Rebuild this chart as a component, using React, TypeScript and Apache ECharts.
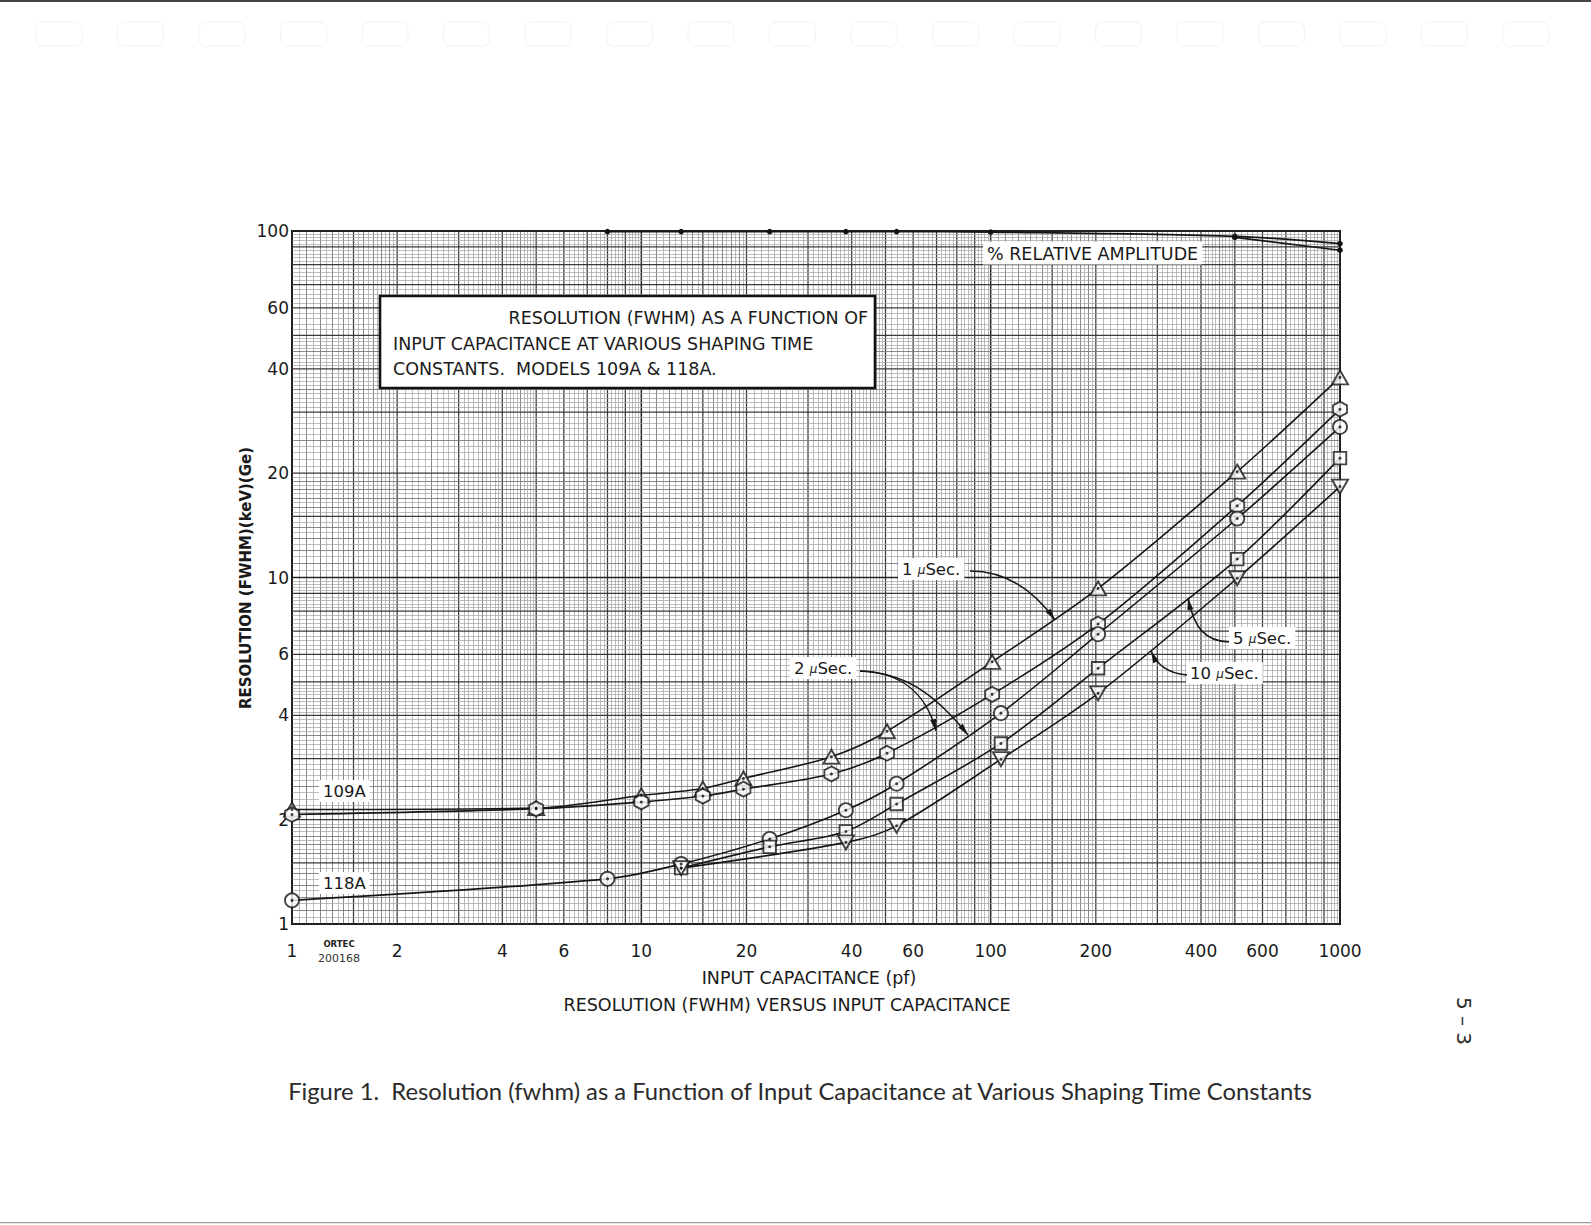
import React, { useEffect, useRef } from "react";
import * as echarts from "echarts";

// ---------- data ----------
const xTickLabels = [1, 2, 4, 6, 10, 20, 40, 60, 100, 200, 400, 600, 1000];
const yTickLabels = [1, 2, 4, 6, 10, 20, 40, 60, 100];

// 109A, 1 µSec (triangles)
const cap1us = [1, 5, 10, 15, 19.6, 35, 50.5, 101, 203, 508, 1000];
const res1us = [2.14, 2.16, 2.35, 2.46, 2.63, 3.04, 3.6, 5.71, 9.3, 20.2, 37.8];
// 109A, 2 µSec (hexagons)
const cap2us109 = [1, 5, 10, 15, 19.6, 35, 50.5, 101, 203, 508, 1000];
const res2us109 = [2.07, 2.15, 2.25, 2.34, 2.45, 2.71, 3.11, 4.6, 7.34, 16.1, 30.6];
// 118A, 2 µSec (circles)
const cap2us118 = [1, 8, 13, 23.3, 38.5, 53.8, 107, 203, 508, 1000];
const res2us118 = [1.17, 1.35, 1.49, 1.76, 2.13, 2.54, 4.06, 6.86, 14.8, 27.2];
// 118A, 5 µSec (squares)
const cap5us = [13, 23.3, 38.5, 53.8, 107, 203, 508, 1000];
const res5us = [1.45, 1.67, 1.85, 2.22, 3.32, 5.47, 11.3, 22.1];
// 118A, 10 µSec (inverted triangles)
const cap10us = [13, 38.5, 53.8, 107, 203, 508, 1000];
const res10us = [1.45, 1.72, 1.92, 2.99, 4.63, 9.95, 18.3];
// % relative amplitude
const ampCap = [8, 13, 23.3, 38.5, 53.8, 100, 500, 1000];
const ampUpper = [99.6, 99.6, 99.6, 99.6, 99.6, 99.3, 96.5, 92];
const ampLowerCap = [500, 1000];
const ampLower = [95.8, 88];

// log graph-paper rulings inside one decade: [from, to, fine step, medium step]
const paperSteps = [
  [1, 2, 0.05, 0.1],
  [2, 5, 0.1, 0.5],
  [5, 10, 0.2, 1],
];

// ---------- styles ----------
const FONT = '"DejaVu Sans", "Liberation Sans", sans-serif';
const INK = "#161616";
const HEX = "path://M0,-10 L8.66,-5 L8.66,5 L0,10 L-8.66,5 L-8.66,-5 Z";
const paperStyles = [
  { c: "#a0a0a0", w: 0.7 },
  { c: "#7c7c7c", w: 0.9 },
  { c: "#3a3a3a", w: 1.25 },
  { c: "#242424", w: 1.5 },
];

const GRID = { left: 292, top: 231, width: 1048, height: 693 };

function buildPaper() {
  const items: number[][] = [];
  const addDecades = (decades: number[], orient: number) => {
    decades.forEach((d) => {
      paperSteps.forEach(([from, to, step, med]) => {
        const n = Math.round((to - from) / step);
        for (let i = 0; i < n; i++) {
          const m = Math.round((from + i * step) * 1000) / 1000;
          let lvl = 0;
          if (m === 1) lvl = 3;
          else if (Number.isInteger(m) || m === 1.5) lvl = 2;
          else if (Math.abs(m / med - Math.round(m / med)) < 1e-6) lvl = 1;
          const v = m * d;
          items.push(orient === 0 ? [v, 1, 0, lvl] : [1, v, 1, lvl]);
        }
      });
    });
  };
  addDecades([1, 10, 100], 0);
  addDecades([1, 10], 1);
  items.push([1000, 1, 0, 3]);
  items.push([1, 100, 1, 3]);
  return items;
}

const pairs = (xs: number[], ys: number[]) => xs.map((x, i) => [x, ys[i]]);

const seriesDefs = [
  { name: "1 µSec. (109A)", data: pairs(cap1us, res1us), symbol: "triangle", size: [16, 14], rotate: 0 },
  { name: "2 µSec. (109A)", data: pairs(cap2us109, res2us109), symbol: HEX, size: [14, 15], rotate: 0 },
  { name: "2 µSec. (118A)", data: pairs(cap2us118, res2us118), symbol: "circle", size: 14, rotate: 0 },
  { name: "5 µSec. (118A)", data: pairs(cap5us, res5us), symbol: "rect", size: 12.5, rotate: 0 },
  { name: "10 µSec. (118A)", data: pairs(cap10us, res10us), symbol: "triangle", size: [16, 14], rotate: 180 },
];

function arrow(p0: number[], c1: number[], c2: number[], p3: number[]) {
  const dx = p3[0] - c2[0];
  const dy = p3[1] - c2[1];
  const L = Math.hypot(dx, dy);
  const ux = dx / L;
  const uy = dy / L;
  const len = 12;
  const w = 3;
  const bx = p3[0] - ux * len;
  const by = p3[1] - uy * len;
  return [
    {
      type: "bezierCurve",
      z: 20,
      silent: true,
      shape: { x1: p0[0], y1: p0[1], cpx1: c1[0], cpy1: c1[1], cpx2: c2[0], cpy2: c2[1], x2: p3[0], y2: p3[1] },
      style: { stroke: INK, lineWidth: 1.5, fill: "none" },
    },
    {
      type: "polygon",
      z: 20,
      silent: true,
      shape: { points: [[p3[0], p3[1]], [bx - uy * w, by + ux * w], [bx + uy * w, by - ux * w]] },
      style: { fill: INK },
    },
  ];
}

function label(text: string, x: number, y: number, size = 16, align = "left") {
  return {
    type: "text",
    z: 20,
    silent: true,
    x,
    y,
    style: {
      text,
      fill: "#1a1a1a",
      fontFamily: FONT,
      fontSize: size,
      align,
      verticalAlign: "middle",
      backgroundColor: "#ffffff",
      padding: [3, 4, 2, 4],
      rich: { m: { fontSize: 12, fontStyle: "italic", fill: "#1a1a1a", fontFamily: FONT } },
    },
  };
}

function plainText(text: string, x: number, y: number, opts: any = {}) {
  return {
    type: "text",
    z: 20,
    silent: true,
    x,
    y,
    rotation: opts.rotation || 0,
    style: {
      text,
      fill: opts.fill || "#1a1a1a",
      fontFamily: opts.fontFamily || FONT,
      fontSize: opts.fontSize || 16,
      fontWeight: opts.fontWeight || "normal",
      align: opts.align || "left",
      verticalAlign: "middle",
    },
  };
}

function buildOption() {
  const graphic: any[] = [];
  // page edges
  graphic.push({ type: "rect", z: 0, silent: true, shape: { x: 0, y: 0, width: 1591, height: 2 }, style: { fill: "#444" } });
  graphic.push({ type: "rect", z: 0, silent: true, shape: { x: 0, y: 1222, width: 1591, height: 1.2 }, style: { fill: "#9a9a9a" } });
  for (let k = 0; k < 19; k++) {
    graphic.push({
      type: "rect",
      z: 0,
      silent: true,
      shape: { x: 36 + k * 81.5, y: 22, width: 46, height: 24, r: 7 },
      style: { fill: "none", stroke: "#f2f2f2", lineWidth: 1 },
    });
  }
  // title box
  graphic.push({
    type: "rect",
    z: 20,
    silent: true,
    shape: { x: 380, y: 296, width: 495, height: 92 },
    style: { fill: "#ffffff", stroke: "#111", lineWidth: 2.6 },
  });
  graphic.push(plainText("RESOLUTION (FWHM) AS A FUNCTION OF", 868, 318, { fontSize: 17.5, align: "right" }));
  graphic.push(plainText("INPUT CAPACITANCE AT VARIOUS SHAPING TIME", 393, 344, { fontSize: 17.5 }));
  graphic.push(plainText("CONSTANTS.  MODELS 109A & 118A.", 393, 369, { fontSize: 17.5 }));
  // y-axis title
  graphic.push(
    plainText("RESOLUTION (FWHM)(keV)(Ge)", 246, 578, {
      fontSize: 15,
      fontWeight: "bold",
      align: "center",
      rotation: Math.PI / 2,
    })
  );
  // in-plot labels
  graphic.push(label("% RELATIVE AMPLITUDE", 983, 253, 17.5));
  graphic.push(label("109A", 319, 791, 16.5));
  graphic.push(label("118A", 319, 883, 16.5));
  graphic.push(label("1 {m|µ}Sec.", 898, 569, 16.5));
  graphic.push(label("2 {m|µ}Sec.", 790, 668, 16.5));
  graphic.push(label("5 {m|µ}Sec.", 1229, 638, 16.5));
  graphic.push(label("10 {m|µ}Sec.", 1186, 673, 16.5));
  // arrows
  graphic.push(...arrow([970, 571], [1003, 571], [1032, 588], [1055, 620]));
  graphic.push(...arrow([860, 671], [895, 672], [925, 688], [936, 731]));
  graphic.push(...arrow([860, 671], [902, 673], [932, 690], [968, 735]));
  graphic.push(...arrow([1229, 642], [1205, 641], [1194, 628], [1188, 598]));
  graphic.push(...arrow([1187, 675], [1166, 673], [1157, 664], [1151, 651]));
  // maker's mark
  graphic.push(plainText("ORTEC", 339, 944, { fontSize: 8.5, fontWeight: 900, align: "center", fill: "#222" }));
  graphic.push(plainText("200168", 339, 958, { fontSize: 11, align: "center", fill: "#333" }));
  // second caption line of chart
  graphic.push(plainText("RESOLUTION (FWHM) VERSUS INPUT CAPACITANCE", 787, 1005, { fontSize: 17.5, align: "center" }));
  // figure caption
  graphic.push(
    plainText(
      "Figure 1.  Resolution (fwhm) as a Function of Input Capacitance at Various Shaping Time Constants",
      800,
      1091,
      { fontSize: 23.8, align: "center", fontFamily: "Lato, 'Noto Sans', sans-serif", fill: "#2a2a2a" }
    )
  );
  // page number
  graphic.push(plainText("5 – 3", 1464, 1021, { fontSize: 20, align: "center", rotation: -Math.PI / 2, fill: "#2a2a2a" }));

  const series: any[] = [];
  series.push({
    name: "paper",
    type: "custom",
    z: 1,
    silent: true,
    clip: false,
    encode: { x: 0, y: 1 },
    data: buildPaper(),
    renderItem: (params: any, api: any) => {
      const o = api.value(2);
      const s = paperStyles[api.value(3)];
      let a: number[];
      let b: number[];
      if (o === 0) {
        const v = api.value(0);
        a = api.coord([v, 1]);
        b = api.coord([v, 100]);
      } else {
        const v = api.value(1);
        a = api.coord([1, v]);
        b = api.coord([1000, v]);
      }
      const snap = (t: number) => (s.w <= 1 ? Math.round(t) + 0.5 : t);
      return {
        type: "line",
        silent: true,
        shape: { x1: snap(a[0]), y1: snap(a[1]), x2: snap(b[0]), y2: snap(b[1]) },
        style: { stroke: s.c, lineWidth: s.w },
      };
    },
  });

  seriesDefs.forEach((d) => {
    series.push({
      name: d.name,
      type: "line",
      z: 4,
      data: d.data,
      smooth: 0.3,
      showSymbol: false,
      clip: false,
      silent: true,
      lineStyle: { color: INK, width: 1.6 },
    });
  });
  seriesDefs.forEach((d) => {
    series.push({
      name: d.name + " markers",
      type: "scatter",
      z: 5,
      data: d.data,
      symbol: d.symbol,
      symbolSize: d.size,
      symbolRotate: d.rotate,
      clip: false,
      silent: true,
      itemStyle: { color: "#ffffff", borderColor: INK, borderWidth: 1.9 },
    });
    series.push({
      name: d.name + " centres",
      type: "scatter",
      z: 6,
      data: d.data,
      symbol: "circle",
      symbolSize: 3,
      clip: false,
      silent: true,
      itemStyle: { color: "#111" },
    });
  });

  series.push({
    name: "% relative amplitude",
    type: "line",
    z: 4,
    data: pairs(ampCap, ampUpper),
    smooth: 0.3,
    clip: false,
    silent: true,
    symbol: "circle",
    symbolSize: 5.5,
    itemStyle: { color: "#111" },
    lineStyle: { color: INK, width: 1.7 },
  });
  series.push({
    name: "% relative amplitude (2)",
    type: "line",
    z: 4,
    data: pairs(ampLowerCap, ampLower),
    clip: false,
    silent: true,
    symbol: "circle",
    symbolSize: 5.5,
    itemStyle: { color: "#111" },
    lineStyle: { color: INK, width: 1.7 },
  });

  return {
    animation: false,
    backgroundColor: "#ffffff",
    textStyle: { fontFamily: FONT },
    grid: { ...GRID, show: true, borderColor: "#111", borderWidth: 2, backgroundColor: "transparent" },
    xAxis: {
      type: "log",
      logBase: 10,
      min: 1,
      max: 1000,
      name: "INPUT CAPACITANCE (pf)",
      nameLocation: "middle",
      nameGap: 45,
      nameTextStyle: { fontFamily: FONT, fontSize: 17.5, color: "#1a1a1a", padding: [0, 14, 0, 0] },
      axisLine: { show: false },
      axisTick: { show: false },
      splitLine: { show: false },
      axisLabel: {
        customValues: xTickLabels,
        formatter: (v: number) => String(Math.round(v)),
        margin: 18,
        fontFamily: FONT,
        fontSize: 17,
        color: "#1a1a1a",
      },
    },
    yAxis: {
      type: "log",
      logBase: 10,
      min: 1,
      max: 100,
      axisLine: { show: false },
      axisTick: { show: false },
      splitLine: { show: false },
      axisLabel: {
        customValues: yTickLabels,
        formatter: (v: number) => String(Math.round(v)),
        margin: 3,
        fontFamily: FONT,
        fontSize: 17,
        color: "#1a1a1a",
      },
    },
    graphic,
    series,
  };
}

export default function App() {
  const ref = useRef<HTMLDivElement>(null);
  useEffect(() => {
    if (!ref.current) return;
    const chart = echarts.init(ref.current, null, { renderer: "svg" });
    chart.setOption(buildOption() as any);
    return () => chart.dispose();
  }, []);
  return (
    <div
      ref={ref}
      style={{ position: "fixed", left: 0, top: 0, width: 1591, height: 1225, background: "#ffffff" }}
    />
  );
}
